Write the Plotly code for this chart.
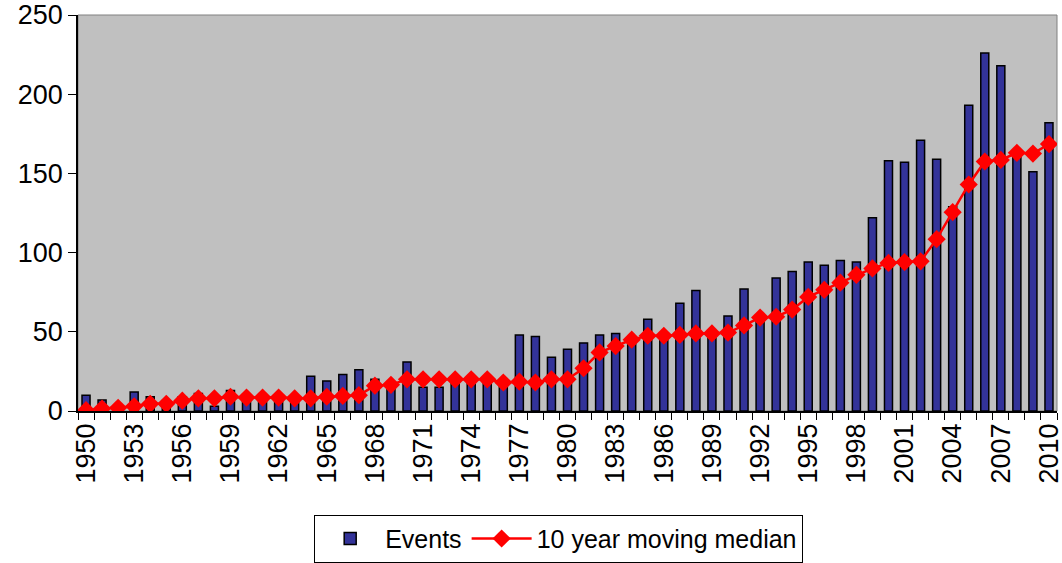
import plotly.graph_objects as go

years = [str(y) for y in range(1950, 2011)]
events = [10, 7, 1, 12, 9, 4, 9, 11, 3, 13,
          8, 7, 8, 6, 22, 19, 23, 26, 20, 16,
          31, 15, 15, 20, 19, 19, 17, 48, 47, 34,
          39, 43, 48, 49, 45, 58, 48, 68, 76, 48,
          60, 77, 58, 84, 88, 94, 92, 95, 94, 122,
          158, 157, 171, 159, 129, 193, 226, 218, 165, 151,
          182]
median = [0.5, 1.5, 2, 3, 4.5, 4.5, 6.5, 8, 8, 9,
          8.5, 8.5, 8.5, 8, 8, 9, 9.5, 10, 16, 16.5,
          20, 20, 20, 20, 20, 20, 18, 18.5, 18, 20,
          20, 27, 37, 41, 45, 47.5, 47.5, 48, 49, 49,
          49.5, 54, 59, 59.5, 64, 72, 76.5, 81, 86, 90,
          93.5, 94, 94.5, 108.5, 125.5, 143, 157.5, 158.5, 163, 162.5,
          168.5]
x_labels = [y if (int(y) - 1950) % 3 == 0 else "" for y in years]
y_ticks = [0, 50, 100, 150, 200, 250]

FONT = "Arial, Liberation Sans, sans-serif"

fig = go.Figure()
fig.add_trace(go.Bar(
    x=years, y=events, name="Events",
    marker=dict(color="#333399", line=dict(color="black", width=1.5)),
))
fig.add_trace(go.Scatter(
    x=years, y=median, name="10 year moving median", mode="lines+markers",
    line=dict(color="#FF0000", width=2.5),
    marker=dict(symbol="diamond", size=14, color="#FF0000"),
))

fig.update_layout(
    width=1062, height=563,
    margin=dict(l=78, r=5, t=15, b=152, autoexpand=False),
    paper_bgcolor="white", plot_bgcolor="#C0C0C0",
    bargap=0.5,
    font=dict(family=FONT, size=27, color="black"),
    showlegend=True,
    legend=dict(orientation="h", x=0.491, xanchor="center", y=-0.262, yanchor="top",
                bordercolor="black", borderwidth=1, bgcolor="white",
                font=dict(family=FONT, size=25), itemwidth=60),
)
fig.update_xaxes(
    type="category", range=[-0.5, 60.5], automargin=False,
    tickmode="array", tickvals=years, ticktext=x_labels, tickangle=-90,
    tickson="boundaries", ticks="outside", ticklen=7, tickcolor="black",
    showline=True, linecolor="black", linewidth=1.5,
    showgrid=False, tickfont=dict(family=FONT, size=27),
)
fig.update_yaxes(
    range=[0, 250], tickvals=y_ticks, automargin=False,
    ticks="outside", ticklen=8, tickcolor="black",
    showline=True, linecolor="black", linewidth=1.5,
    showgrid=False, zeroline=False, tickfont=dict(family=FONT, size=27),
)
fig.add_shape(type="rect", xref="paper", yref="paper", x0=0, x1=1, y0=0, y1=1,
              line=dict(color="#808080", width=1), layer="below")

fig.write_html("out.html", config={"displayModeBar": False},
               post_script="document.body.style.margin='0';")
